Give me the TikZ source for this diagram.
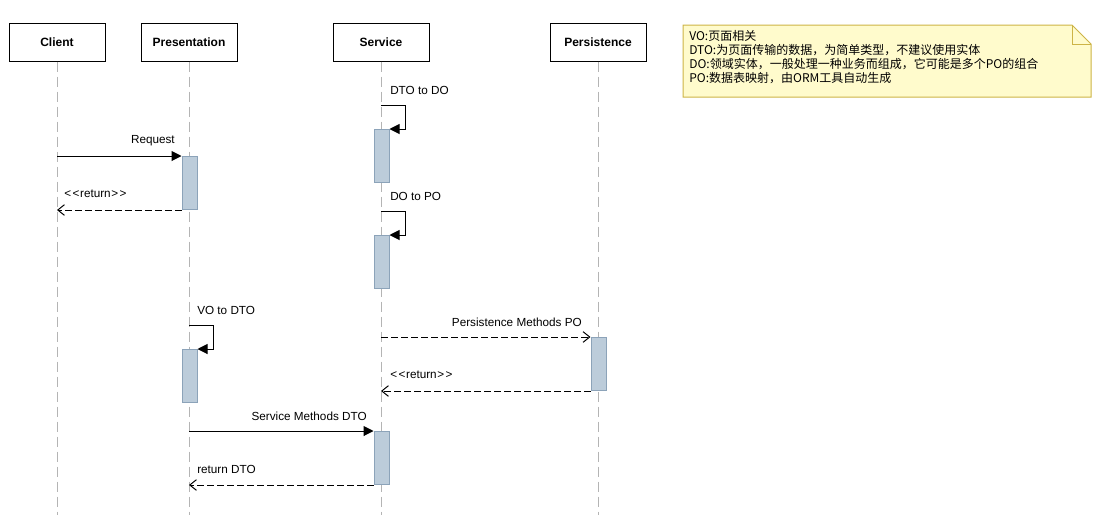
\documentclass[tikz,border=0pt]{standalone}
\usepackage{fontspec}
\setmainfont{Liberation Sans}
\newfontfamily\cjk{Noto Sans CJK SC}
\usepackage{xcolor}
\usetikzlibrary{arrows.meta, calc}
\definecolor{attivo}{RGB}{188,204,218}
\definecolor{attivobordo}{RGB}{140,163,185}
\definecolor{notafondo}{RGB}{255,251,204}
\definecolor{notabordo}{RGB}{205,180,70}
\definecolor{vita}{RGB}{180,180,180}
\newcommand{\ritornoTesto}{<\kern1.2pt<\kern0.4pt return\kern0.4pt>\kern1.2pt>}

\begin{document}
\begin{tikzpicture}[x = 0.75pt, y = -0.75pt, font = \fontsize{8.8}{10}\selectfont,
    box/.style = {draw, fill = white, line width = 0.75pt, minimum width = 72pt, minimum height = 28.5pt, font = \fontsize{9}{10}\selectfont\bfseries},
    vita/.style = {draw = vita, line width = 0.75pt, dash pattern = on 7.5pt off 3.75pt},
    attivo/.style = {draw = attivobordo, fill = attivo, line width = 0.75pt, minimum width = 11.25pt, minimum height = 39.75pt, inner sep = 0pt, anchor = north},
    chiamata/.style = {line width = 0.75pt, -{Triangle[length = 7.5pt, width = 7.5pt]}},
    ritorno/.style = {line width = 0.75pt, dash pattern = on 5pt off 2.5pt, -{Straight Barb[length = 5pt, width = 8pt]}},
    etichetta/.style = {inner sep = 0pt}]
    % Parametri
    \pgfmathsetmacro{\fondo}{515}
    \pgfmathsetmacro{\giro}{24}
    \useasboundingbox (0,0) rectangle (1106,\fondo);
    \coordinate (fondo) at (0,\fondo);
    % Oggetti
    \node[box] (client) at (57,42) {Client};
    \node[box] (presentation) at (189,42) {Presentation};
    \node[box] (service) at (381,42) {Service};
    \node[box] (persistence) at (598,42) {Persistence};
    % Linee di vita
    \draw[vita] (client.south) -- (client |- fondo);
    \draw[vita] (presentation.south) -- (presentation |- fondo);
    \draw[vita] (service.south) -- (service |- fondo);
    \draw[vita] (persistence.south) -- (persistence |- fondo);
    % Attivazioni
    \node[attivo] (s1) at (381.5,129) {};
    \node[attivo] (s2) at (381.5,235) {};
    \node[attivo] (p1) at (189.5,156) {};
    \node[attivo] (p2) at (189.5,349) {};
    \node[attivo] (pe1) at (598.5,337) {};
    \node[attivo] (s3) at (381.5,431) {};
    % DTO to DO, DO to PO
    \coordinate (a1) at (381,105);
    \draw[chiamata] (a1) -- ++(\giro,0) |- (s1.north east);
    \node[etichetta, anchor = west] at (390,90) {DTO to DO};
    \coordinate (a2) at (381,211);
    \draw[chiamata] (a2) -- ++(\giro,0) |- (s2.north east);
    \node[etichetta, anchor = west] at (390,196) {DO to PO};
    % Request e ritorno
    \draw[chiamata] (client |- p1.north west) -- (p1.north west);
    \node[etichetta, anchor = east] at (175,141) {Request};
    \draw[ritorno] (p1.south west) -- (client |- p1.south west);
    \node[etichetta, anchor = west] at (64,194) {\ritornoTesto};
    % VO to DTO
    \coordinate (a3) at (189,325);
    \draw[chiamata] (a3) -- ++(\giro,0) |- (p2.north east);
    \node[etichetta, anchor = west] at (197,310) {VO to DTO};
    % Persistence
    \draw[ritorno] (service |- pe1.north west) -- (pe1.north west);
    \node[etichetta, anchor = east] at (582,322) {Persistence Methods PO};
    \draw[ritorno] (pe1.south west) -- (service |- pe1.south west);
    \node[etichetta, anchor = west] at (390,375) {\ritornoTesto};
    % Service Methods DTO
    \draw[chiamata] (presentation |- s3.north west) -- (s3.north west);
    \node[etichetta, anchor = east] at (367,416) {Service Methods DTO};
    \draw[ritorno] (s3.south west) -- (presentation |- s3.south west);
    \node[etichetta, anchor = west] at (197,469) {return DTO};
    % Nota
    \draw[notabordo, fill = notafondo, line width = 0.75pt] (683,25) -- (1072,25) -- (1091,44) -- (1091,97) -- (683,97) -- cycle;
    \draw[notabordo, line width = 0.75pt] (1072,25) -- (1072,44) -- (1091,44);
    \node[etichetta, anchor = north west, align = left, font = \cjk\fontsize{9}{10.5}\selectfont] (nota) at (689,30) {VO:页面相关\\DTO:为页面传输的数据，为简单类型，不建议使用实体\\DO:领域实体，一般处理一种业务而组成，它可能是多个PO的组合\\PO:数据表映射，由ORM工具自动生成};
\end{tikzpicture}
\end{document}
